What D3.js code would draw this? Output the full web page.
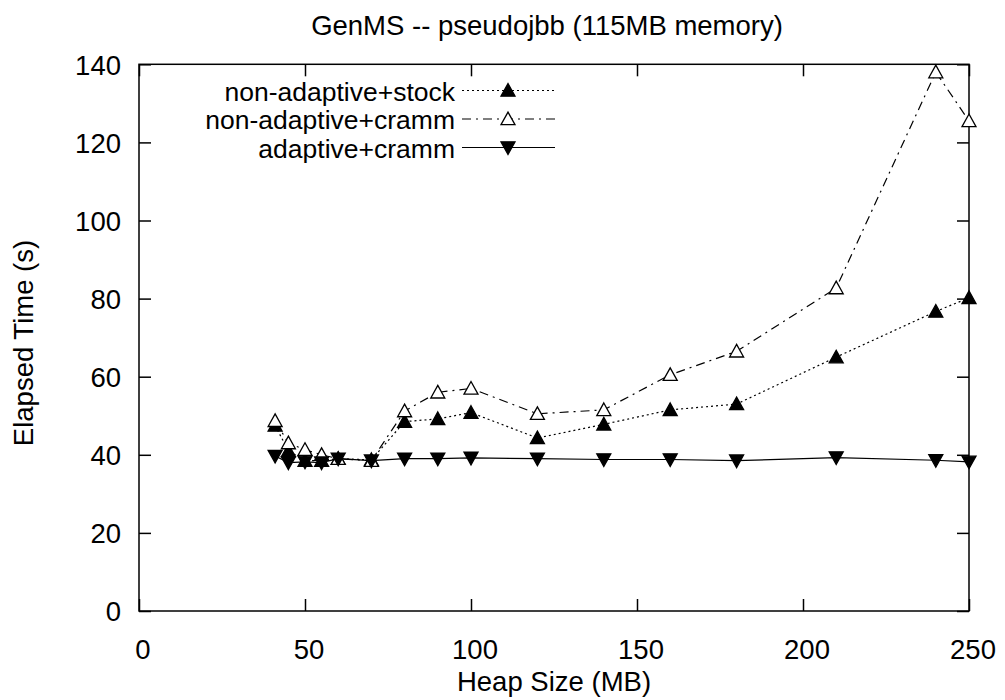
<!DOCTYPE html>
<html><head><meta charset="utf-8">
<script src="https://cdn.jsdelivr.net/npm/d3@7"></script>
<style>body{margin:0;background:#fff}svg{display:block}text{font-family:"Liberation Sans",Arial,sans-serif;fill:#000}</style>
</head><body>
<svg id="c" width="1005" height="700"></svg>
<script>
const heapSizes = [41, 45, 50, 55, 60, 70, 80, 90, 100, 120, 140, 160, 180, 210, 240, 250];
const nonAdaptiveStock = [47.5, 41, 38.5, 38.5, 39, 38.7, 48.5, 49.2, 50.8, 44.3, 47.8, 51.5, 53, 65, 76.7, 80.2];
const nonAdaptiveCramm = [48.7, 43, 41.3, 40, 39, 38.5, 51.2, 56, 57, 50.5, 51.5, 60.5, 66.5, 82.7, 138, 125.5];
const adaptiveCramm = [39.7, 38, 38.2, 38, 39, 38.5, 39, 39, 39.2, 39, 38.8, 38.8, 38.5, 39.3, 38.6, 38.2];
const seriesNames = ["non-adaptive+stock", "non-adaptive+cramm", "adaptive+cramm"];
const xTicks = [0, 50, 100, 150, 200, 250];
const yTicks = [0, 20, 40, 60, 80, 100, 120, 140];
const titleText = "GenMS -- pseudojbb (115MB memory)";
const xLabel = "Heap Size (MB)";
const yLabel = "Elapsed Time (s)";

const svg = d3.select("#c");
const L = 139, R = 969, T = 64.3, B = 611;
const x = d3.scaleLinear().domain([0, 250]).range([L, R]);
const y = d3.scaleLinear().domain([0, 140]).range([B, T]);
const FS = 27.5;
const LFS = 26.5;

const series = [
  {name: seriesNames[0], vals: nonAdaptiveStock, dash: "2,3", marker: "up", fill: "#000"},
  {name: seriesNames[1], vals: nonAdaptiveCramm, dash: "9,5,2,5", marker: "up", fill: "#fff"},
  {name: seriesNames[2], vals: adaptiveCramm, dash: null, marker: "down", fill: "#000"}
];

const tl = 12;
const gB = svg.append("g").attr("transform", `translate(0,${B})`)
  .call(d3.axisBottom(x).tickValues(xTicks).tickSizeInner(-tl).tickSizeOuter(0).tickPadding(tl + 16));
const gT = svg.append("g").attr("transform", `translate(0,${T})`)
  .call(d3.axisTop(x).tickValues(xTicks).tickSizeInner(-tl).tickSizeOuter(0).tickFormat(""));
const gL = svg.append("g").attr("transform", `translate(${L},0)`)
  .call(d3.axisLeft(y).tickValues(yTicks).tickSizeInner(-tl).tickSizeOuter(0).tickPadding(18));
const gR = svg.append("g").attr("transform", `translate(${R},0)`)
  .call(d3.axisRight(y).tickValues(yTicks).tickSizeInner(-tl).tickSizeOuter(0).tickFormat(""));
[gB, gT, gL, gR].forEach(g => {
  g.select(".domain").remove();
  g.selectAll(".tick line").attr("stroke", "#000").attr("stroke-width", 1.5);
  g.selectAll("text").attr("font-size", FS).attr("font-family", "Liberation Sans, Arial, sans-serif").attr("fill", "#000");
});
gB.selectAll(".tick text").attr("dx", 3.5);
gL.selectAll(".tick text").attr("dy", "0.36em");

svg.append("rect").attr("x", L).attr("y", T).attr("width", R - L).attr("height", B - T)
  .attr("fill", "none").attr("stroke", "#000").attr("stroke-width", 1.5);

svg.append("text").attr("x", 547).attr("y", 35).attr("text-anchor", "middle").attr("font-size", FS).text(titleText);
svg.append("text").attr("x", 554).attr("y", 691).attr("text-anchor", "middle").attr("font-size", FS).text(xLabel);
svg.append("text").attr("transform", `translate(33,343) rotate(-90)`).attr("text-anchor", "middle").attr("font-size", FS).text(yLabel);

function tri(dir, s) {
  const h = s * 0.9;
  if (dir === "up") return `M0,${-h*0.55}L${s/2},${h*0.45}L${-s/2},${h*0.45}Z`;
  return `M0,${h*0.55}L${s/2},${-h*0.45}L${-s/2},${-h*0.45}Z`;
}

const line = d3.line().x(d => x(d[0])).y(d => y(d[1]));
series.forEach(s => {
  const pts = heapSizes.map((h, i) => [h, s.vals[i]]);
  svg.append("path").datum(pts).attr("d", line).attr("fill", "none").attr("stroke", "#000")
    .attr("stroke-width", 1.2).attr("stroke-dasharray", s.dash);
  svg.selectAll(null).data(pts).enter().append("path")
    .attr("transform", d => `translate(${x(d[0])},${y(d[1])})`)
    .attr("d", tri(s.marker, 14)).attr("fill", s.fill).attr("stroke", "#000").attr("stroke-width", 1.3);
});

const lg = svg.append("g");
series.forEach((s, i) => {
  const base = 100.5 + i * 28.5;
  const ly = base - 10;
  lg.append("text").attr("x", 455).attr("y", base).attr("text-anchor", "end").attr("font-size", LFS).text(s.name);
  lg.append("line").attr("x1", 462).attr("x2", 555).attr("y1", ly).attr("y2", ly)
    .attr("stroke", "#000").attr("stroke-width", 1.2).attr("stroke-dasharray", s.dash);
  lg.append("path").attr("transform", `translate(508,${ly})`).attr("d", tri(s.marker, 14))
    .attr("fill", s.fill).attr("stroke", "#000").attr("stroke-width", 1.3);
});
</script>
</body></html>
